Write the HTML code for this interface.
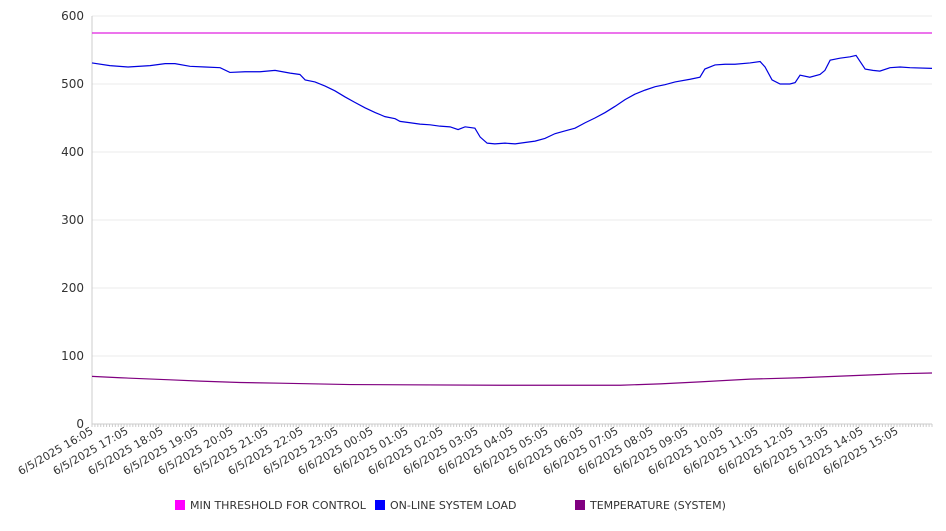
<!DOCTYPE html>
<html><head><meta charset="utf-8"><style>
body{margin:0;background:#fff;font-family:"Liberation Sans","DejaVu Sans",sans-serif;}
svg text{font-family:"DejaVu Sans","Liberation Sans",sans-serif;}
</style></head><body>
<svg id="chart" width="946" height="526" xmlns="http://www.w3.org/2000/svg"></svg>
<script>
const yTicks=[0,100,200,300,400,500,600];
const xTickLabels=["6/5/2025 16:05","6/5/2025 17:05","6/5/2025 18:05","6/5/2025 19:05","6/5/2025 20:05","6/5/2025 21:05","6/5/2025 22:05","6/5/2025 23:05","6/6/2025 00:05","6/6/2025 01:05","6/6/2025 02:05","6/6/2025 03:05","6/6/2025 04:05","6/6/2025 05:05","6/6/2025 06:05","6/6/2025 07:05","6/6/2025 08:05","6/6/2025 09:05","6/6/2025 10:05","6/6/2025 11:05","6/6/2025 12:05","6/6/2025 13:05","6/6/2025 14:05","6/6/2025 15:05"];
const thresholdValue=575;
const loadHours=[0,.51,1.03,1.66,2.09,2.37,2.8,3.23,3.66,3.94,4.37,4.8,5.23,5.66,5.94,6.09,6.37,6.66,6.94,7.23,7.51,7.8,8.09,8.37,8.66,8.8,9.09,9.37,9.66,9.94,10.23,10.46,10.66,10.94,11.09,11.29,11.51,11.8,12.09,12.37,12.66,12.94,13.23,13.51,13.8,14.09,14.37,14.66,14.94,15.23,15.51,15.8,16.09,16.37,16.66,17.09,17.37,17.51,17.8,18.09,18.37,18.8,19.09,19.23,19.43,19.66,19.94,20.09,20.23,20.51,20.8,20.94,21.09,21.37,21.66,21.83,22.09,22.31,22.51,22.8,23.09,23.37,24];
const loadValues=[531,527,525,527,530,530,526,525,524,517,518,518,520,516,514,506,503,497,490,481,473,465,458,452,449,445,443,441,440,438,437,433,437,435,422,413,412,413,412,414,416,420,427,431,435,443,450,458,467,477,485,491,496,499,503,507,510,522,528,529,529,531,533,525,506,500,500,502,513,510,514,520,535,538,540,542,522,520,519,524,525,524,523];
const tempHours=[0,.8,2.23,3.09,4.23,5.37,7.37,11.66,15.09,16.23,17.37,18.8,20.23,21.66,23.09,24];
const tempValues=[70,68,65,63,61,60,58,57,57,59,62,66,68,71,74,75];

const X0=92,X1=932,Y0=424,Y1=16;
const xs=h=>X0+(X1-X0)*h/24;
const ys=v=>Y0-(Y0-Y1)*v/600;
const NS="http://www.w3.org/2000/svg";
const svg=document.getElementById('chart');
function mk(tag,attrs,parent){const e=document.createElementNS(NS,tag);for(const k in attrs)e.setAttribute(k,attrs[k]);(parent||svg).appendChild(e);return e;}

yTicks.forEach(v=>{
  const g=mk('line',{x1:X0,x2:X1,y1:ys(v),y2:ys(v),stroke:v===0?'#ccc':'#ebebeb','stroke-width':1});
  
  
  const t=mk('text',{x:84,y:ys(v)+4,'text-anchor':'end','font-size':12,fill:'#333'});
  t.textContent=v;
  
  
});
const ax=mk('line',{x1:X0,x2:X0,y1:Y1,y2:Y0,stroke:'#ccc'});


for(let i=0;i<=288;i++){
  const tk=mk('line',{x1:xs(i/12),x2:xs(i/12),y1:Y0,y2:Y0+3,stroke:'#ccc'});
  
  
}
xTickLabels.forEach((s,i)=>{
  const x=xs(i)+2,y=Y0+9;
  const t=mk('text',{x:x,y:y,'text-anchor':'end','font-size':11,fill:'#333',transform:`rotate(-30 ${x} ${y})`});
  t.textContent=s;
  
  
});
const th=mk('line',{x1:X0,x2:X1,y1:ys(thresholdValue),y2:ys(thresholdValue),stroke:'#e020e0','stroke-width':1.2});


const lp=mk('polyline',{points:loadHours.map((h,i)=>xs(h)+','+ys(loadValues[i])).join(' '),fill:'none',stroke:'#0000e0','stroke-width':1.2});


const tp=mk('polyline',{points:tempHours.map((h,i)=>xs(h)+','+ys(tempValues[i])).join(' '),fill:'none',stroke:'#800080','stroke-width':1.2});



const legend=[["MIN THRESHOLD FOR CONTROL","#ff00ff",175],["ON-LINE SYSTEM LOAD","#0000ff",375],["TEMPERATURE (SYSTEM)","#800080",575]];
legend.forEach(([n,c,x])=>{
  const g=mk('g',{});
  
  
  mk('rect',{x:x,y:500,width:10,height:10,fill:c},g);
  const t=mk('text',{x:x+15,y:509,'font-size':11,fill:'#333'},g);
  t.textContent=n;
});
</script>
</body></html>
